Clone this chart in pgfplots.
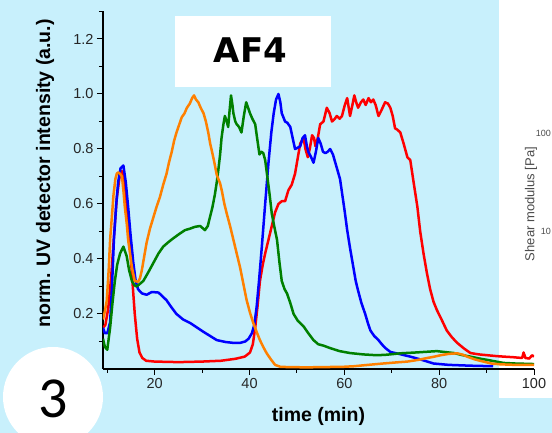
\documentclass[border=0pt]{standalone}
\usepackage{fontspec}
\setmainfont{Liberation Sans}
\newfontfamily\carlito{Carlito}
\newfontfamily\dejavu{DejaVu Sans}
\usepackage{pgfplots}
\pgfplotsset{compat=1.18}
\definecolor{bgblue}{RGB}{200,240,252}
\definecolor{myorange}{RGB}{255,128,0}
\definecolor{mygreen}{RGB}{0,128,0}
\begin{document}
\begin{tikzpicture}[x=1pt,y=1pt]
\useasboundingbox (0,0) rectangle (552,433);
\fill[bgblue] (0,0) rectangle (552,433);
\fill[white] (499,35) rectangle (552,433);
\node[rotate=90, font=\fontsize{13}{15}\selectfont, text=black!70] at (531,229) {Shear modulus [Pa]};
\node[anchor=east, inner sep=1pt, font=\fontsize{9}{11}\selectfont, text=black!70] at (552,300) {100};
\node[anchor=east, inner sep=1pt, font=\fontsize{9}{11}\selectfont, text=black!70] at (552,202) {10};
\begin{axis}[
  at={(103pt,64pt)}, anchor=south west, scale only axis,
  width=431pt, height=357.5pt,
  xmin=9.1, xmax=100, ymin=0, ymax=1.3,
  axis x line*=bottom, axis y line*=left,
  axis line style={line width=1.5pt, -},
  tick align=outside,
  major tick length=6pt, minor tick length=4pt,
  xtick={20,40,60,80,100}, minor xtick={10,30,50,70,90},
  ytick={0.2,0.4,0.6,0.8,1.0,1.2}, minor ytick={0.1,0.3,0.5,0.7,0.9,1.1,1.3},
  every tick/.style={black, line width=1pt},
  tick label style={font=\fontsize{14.5}{17}\selectfont, text=black!85},
  /pgf/number format/assume math mode=true,
  yticklabel style={/pgf/number format/.cd, fixed, fixed zerofill, precision=1},
  xlabel={\bfseries time (min)},
  ylabel={\bfseries norm. UV detector intensity (a.u.)},
  label style={font=\fontsize{19.5}{22}\selectfont\bfseries},
  xlabel style={at={(axis description cs:0.5,-0.134)}, anchor=center},
  ylabel style={at={(axis description cs:-0.1346,0.547)}, anchor=center},
  every axis plot/.append style={line width=2.5pt, line join=round},
]
% red
\addplot[red] coordinates {
(9.1,0.15) (9.6,0.16) (10.2,0.22) (10.8,0.33) (11.4,0.48) (12.0,0.62) (12.6,0.70) (13.1,0.72) (13.6,0.68) (14.2,0.58) (14.8,0.45) (15.3,0.32) (15.8,0.20) (16.3,0.11) (16.8,0.06) (17.4,0.04) (18.2,0.03) (20,0.027) (25,0.025) (30,0.027) (34,0.03) (37,0.037) (39,0.045) (40.1,0.06) (40.7,0.09) (41.2,0.15) (41.7,0.23) (42.2,0.32) (42.8,0.38) (43.3,0.42) (44.0,0.47) (44.7,0.52) (45.4,0.57) (46.1,0.60) (46.8,0.61) (47.5,0.61) (48.2,0.65) (48.9,0.67) (49.6,0.71) (50.2,0.77) (50.7,0.82) (51.4,0.84) (51.8,0.80) (52.3,0.77) (52.7,0.80) (53.2,0.85) (53.6,0.84) (53.9,0.81) (54.4,0.84) (54.9,0.89) (55.6,0.90) (56.3,0.95) (56.9,0.93) (57.4,0.90) (58.0,0.91) (58.4,0.92) (59.0,0.91) (59.5,0.92) (60.1,0.96) (60.6,0.985) (61.2,0.92) (61.7,0.96) (62.1,0.995) (62.5,0.97) (62.9,0.95) (63.5,0.97) (64.0,0.98) (64.5,0.96) (65.1,0.985) (65.6,0.97) (66.1,0.98) (66.6,0.96) (67.2,0.92) (67.8,0.94) (68.6,0.97) (69.2,0.965) (69.7,0.95) (70.2,0.92) (70.7,0.875) (71.2,0.87) (71.8,0.86) (72.5,0.82) (73.3,0.77) (73.9,0.76) (74.6,0.68) (75.4,0.59) (76.0,0.50) (76.7,0.42) (77.4,0.35) (78.1,0.29) (78.8,0.245) (79.5,0.215) (80.5,0.18) (81.6,0.14) (82.7,0.115) (83.8,0.095) (85.2,0.075) (86.6,0.058) (88.4,0.053) (90.2,0.05) (92,0.047) (93.6,0.045) (95.5,0.043) (97.5,0.04) (97.8,0.06) (98.2,0.04) (99.0,0.038) (99.6,0.05) (100,0.045)
};
% blue
\addplot[blue] coordinates {
(9.1,0.15) (9.5,0.13) (10.0,0.13) (10.6,0.17) (11.0,0.30) (11.4,0.47) (11.9,0.60) (12.3,0.68) (12.8,0.73) (13.4,0.74) (13.9,0.68) (14.4,0.59) (14.9,0.49) (15.5,0.385) (16.0,0.32) (16.5,0.29) (17.3,0.275) (18.3,0.27) (19.4,0.28) (20.8,0.278) (21.6,0.265) (22.5,0.25) (23.5,0.225) (24.6,0.20) (26.0,0.18) (27.5,0.167) (29.0,0.15) (30.3,0.135) (31.7,0.12) (33.1,0.105) (35,0.098) (36.6,0.095) (38,0.095) (39.1,0.10) (39.8,0.11) (40.5,0.13) (41.0,0.16) (41.5,0.225) (42.0,0.32) (42.6,0.445) (43.3,0.60) (44.0,0.75) (44.6,0.86) (45.1,0.93) (45.6,0.98) (46.1,1.0) (46.5,0.97) (46.8,0.93) (47.5,0.90) (48.0,0.895) (48.6,0.88) (49.1,0.84) (49.6,0.80) (50.2,0.805) (50.7,0.81) (51.2,0.84) (51.7,0.85) (52.1,0.81) (52.4,0.79) (53.0,0.77) (53.5,0.75) (54.0,0.79) (54.5,0.84) (55.0,0.82) (55.5,0.79) (56.0,0.785) (56.5,0.79) (57.0,0.80) (57.6,0.78) (58.1,0.75) (58.6,0.72) (59.1,0.69) (59.6,0.63) (60.1,0.57) (60.6,0.505) (61.2,0.44) (61.9,0.37) (62.4,0.32) (62.9,0.285) (63.6,0.24) (64.4,0.20) (65.0,0.165) (65.5,0.14) (66.3,0.12) (67.2,0.105) (67.9,0.09) (68.6,0.077) (69.7,0.062) (71.5,0.055) (73.9,0.045) (76,0.035) (78.8,0.02) (82,0.015) (86.6,0.012) (91.4,0.01)
};
% green
\addplot[mygreen] coordinates {
(9.1,0.11) (9.5,0.08) (10.0,0.07) (10.6,0.15) (11.1,0.24) (11.6,0.32) (12.1,0.38) (12.7,0.42) (13.4,0.445) (14.1,0.41) (14.6,0.36) (15.2,0.32) (15.7,0.305) (16.2,0.30) (16.9,0.31) (17.6,0.32) (18.6,0.35) (19.7,0.385) (20.8,0.42) (21.8,0.445) (22.8,0.46) (23.9,0.475) (25.1,0.49) (26.4,0.505) (27.4,0.51) (28.5,0.517) (29.6,0.52) (30.6,0.505) (31.2,0.52) (31.7,0.555) (32.2,0.59) (32.7,0.635) (33.1,0.68) (33.4,0.72) (33.8,0.78) (34.1,0.84) (34.5,0.89) (34.8,0.92) (35.2,0.90) (35.5,0.88) (35.8,0.94) (36.1,0.995) (36.4,0.96) (36.6,0.93) (37.0,0.90) (37.3,0.89) (37.8,0.88) (38.3,0.86) (38.8,0.92) (39.3,0.97) (39.7,0.95) (40.1,0.93) (40.6,0.91) (41.2,0.89) (41.6,0.84) (42.1,0.78) (42.5,0.79) (42.9,0.785) (43.3,0.76) (43.6,0.72) (44.2,0.64) (44.7,0.565) (45.2,0.52) (45.8,0.47) (46.3,0.39) (46.8,0.32) (47.4,0.29) (47.9,0.275) (48.6,0.24) (49.3,0.20) (50.2,0.175) (51.4,0.155) (52.4,0.13) (53.5,0.105) (54.5,0.09) (55.6,0.085) (57,0.076) (59,0.065) (61.2,0.058) (64,0.053) (66.9,0.05) (69,0.052) (71.8,0.057) (75,0.06) (79.5,0.065) (83.1,0.058) (85,0.05) (86.6,0.045) (88.5,0.038) (90.2,0.033) (92,0.027) (93.6,0.022) (96,0.02) (100,0.018)
};
% orange
\addplot[myorange] coordinates {
(9.1,0.18) (9.5,0.21) (9.9,0.25) (10.3,0.36) (10.6,0.47) (11.0,0.56) (11.3,0.63) (11.7,0.69) (12.0,0.71) (12.3,0.715) (12.7,0.71) (13.1,0.70) (13.4,0.65) (13.7,0.59) (14.1,0.53) (14.4,0.47) (14.8,0.42) (15.2,0.37) (15.8,0.32) (16.5,0.317) (16.9,0.33) (17.3,0.36) (17.8,0.41) (18.3,0.46) (19.0,0.51) (19.7,0.55) (20.4,0.59) (21.1,0.625) (21.8,0.67) (22.5,0.71) (23.0,0.75) (23.6,0.79) (24.1,0.83) (24.6,0.86) (25.2,0.89) (25.7,0.915) (26.3,0.93) (26.8,0.95) (27.4,0.965) (27.9,0.985) (28.3,0.995) (28.7,0.98) (29.2,0.97) (29.7,0.95) (30.3,0.93) (30.8,0.90) (31.3,0.86) (31.7,0.82) (32.1,0.79) (32.6,0.75) (33.1,0.705) (33.8,0.675) (34.2,0.645) (34.7,0.60) (35.2,0.565) (35.9,0.52) (36.6,0.47) (37.3,0.42) (38.0,0.37) (38.7,0.31) (39.4,0.25) (40.1,0.205) (40.8,0.167) (41.5,0.135) (42.2,0.105) (42.9,0.08) (43.6,0.058) (44.5,0.035) (45.4,0.015) (46.5,0.008) (48,0.007) (52,0.006) (56,0.007) (59.8,0.008) (62,0.01) (65,0.015) (68.2,0.02) (71,0.024) (73.3,0.027) (75.5,0.033) (77.5,0.04) (79,0.045) (80.3,0.05) (82,0.055) (83.8,0.057) (85,0.052) (85.9,0.045) (87.5,0.035) (89.3,0.027) (91,0.02) (92.9,0.017) (96,0.015) (100,0.015)
};
\end{axis}
\fill[white] (175,346) rectangle (331,417);
\node[font=\dejavu\bfseries\fontsize{34}{40}\selectfont] at (250.5,382.5) {AF4};
\fill[white] (53,36) circle (50);
\node[font=\carlito\fontsize{58}{60}\selectfont] at (53.5,34) {3};
\end{tikzpicture}
\end{document}
